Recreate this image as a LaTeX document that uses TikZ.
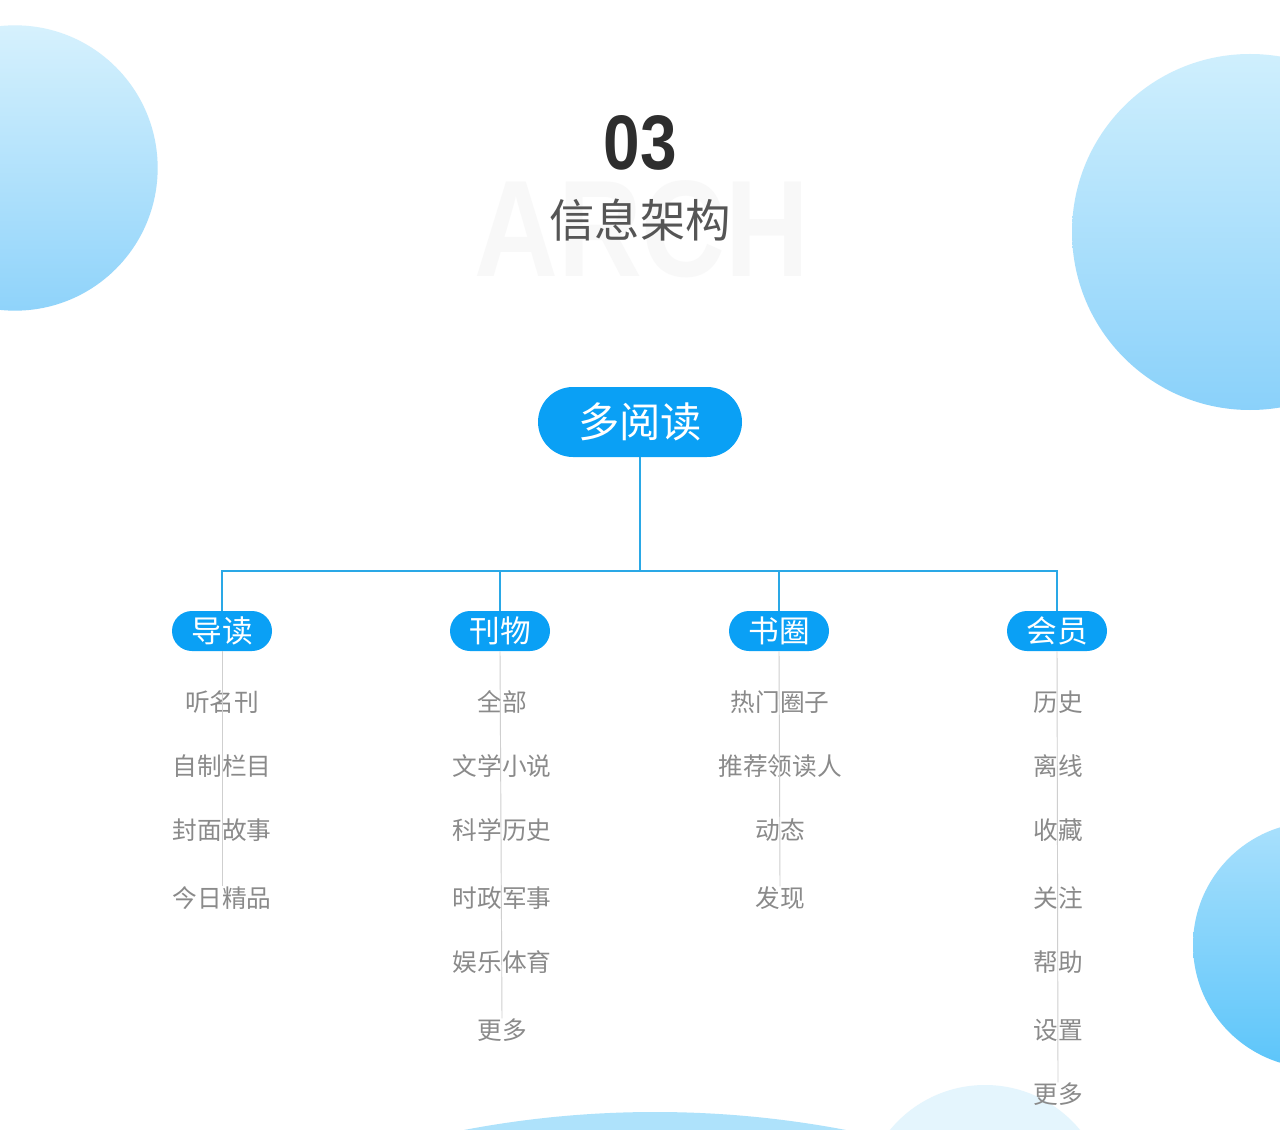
\documentclass[tikz,border=0pt]{standalone}
\usepackage{fontspec}
\usepackage{xcolor}
\setmainfont{Liberation Sans}
\newfontfamily\cjk{Noto Sans CJK SC}
\newfontfamily\numfont[FakeStretch=0.85]{Liberation Sans}
\newfontfamily\markfont[FakeStretch=0.845]{Liberation Sans}
\usetikzlibrary{positioning,shapes,calc}

\definecolor{mainblue}{HTML}{0AA0F5}
\definecolor{linkblue}{HTML}{2AA8E6}
\definecolor{itemgray}{HTML}{8A8A8A}
\definecolor{stemgray}{HTML}{CFCFCF}
\definecolor{titlegray}{HTML}{555555}
\definecolor{numdark}{HTML}{2E2E2E}
\definecolor{markgray}{HTML}{F8F8F8}
\definecolor{tlTop}{HTML}{D6F1FD}
\definecolor{tlBot}{HTML}{8FD3FA}
\definecolor{trTop}{HTML}{CFEFFD}
\definecolor{trBot}{HTML}{8AD1FA}
\definecolor{brTop}{HTML}{A9E0FC}
\definecolor{brBot}{HTML}{5CC5FA}
\definecolor{arcblue}{HTML}{AEE2FB}
\definecolor{paleblue}{HTML}{E4F5FD}

\tikzset{
  rootnode/.style={shape=rounded rectangle, fill=mainblue, text=white, inner sep=0pt,
    minimum width=153pt, minimum height=52.5pt, font=\cjk\fontsize{31}{31}\selectfont},
  catnode/.style={shape=rounded rectangle, fill=mainblue, text=white, inner sep=0pt,
    minimum width=75pt, minimum height=30pt, font=\cjk\fontsize{23}{23}\selectfont},
  itemnode/.style={text=itemgray, inner sep=0pt, font=\cjk\fontsize{18.5}{19}\selectfont},
  link/.style={draw=linkblue, line width=0.8pt},
  stem/.style={draw=stemgray, line width=0.7pt}
}

\begin{document}
\begin{tikzpicture}[x=0.75pt, y=-0.75pt]
    \useasboundingbox (0,0) rectangle (1280,1130);
    \fill[white] (0,0) rectangle (1280,1130);

    % background circles
    \begin{scope}
        \clip (0,0) rectangle (1280,1130);
        \shade[top color=tlTop, bottom color=tlBot] (15,168) circle[radius=107pt];
        \shade[top color=trTop, bottom color=trBot] (1250,232) circle[radius=133.5pt];
        \shade[top color=brTop, bottom color=brBot] (1316,945) circle[radius=92.25pt];
        \fill[arcblue] (655,2124) circle[radius=759pt];
        \fill[paleblue] (985,1208) circle[radius=92.25pt];
    \end{scope}

    % title
    \node[text=markgray, inner sep=0pt, font=\markfont\bfseries\fontsize{103}{103}\selectfont] (mark) at (642,229) {ARCH};
    \node[text=numdark, inner sep=0pt, font=\numfont\bfseries\fontsize{58}{58}\selectfont] (num) at (640,143) {03};
    \node[text=titlegray, inner sep=0pt, font=\cjk\fontsize{34}{34}\selectfont] (title) at (640,220) {信息架构};

    % tree
    \node[rootnode] (root) at (640,422) {多阅读};
    \coordinate (hub) at (640,571);

    \node[catnode] (dd) at (222,631) {导读};
    \node[catnode] (kw) at (500,631) {刊物};
    \node[catnode] (sq) at (779,631) {书圈};
    \node[catnode] (hy) at (1057,631) {会员};

    \draw[link] (root.south) -- (hub);
    \foreach \c in {dd,kw,sq,hy}
        \draw[link] (hub) -| (\c.north);

    % items
    \foreach \t/\y [count=\i] in {听名刊/702, 自制栏目/766, 封面故事/830, 今日精品/898}
        \node[itemnode] (dd-\i) at (222,\y) {\t};
    \foreach \t/\y [count=\i] in {全部/702, 文学小说/766, 科学历史/830, 时政军事/898, 娱乐体育/962, 更多/1030}
        \node[itemnode] (kw-\i) at (502,\y) {\t};
    \foreach \t/\y [count=\i] in {热门圈子/702, 推荐领读人/766, 动态/830, 发现/898}
        \node[itemnode] (sq-\i) at (780,\y) {\t};
    \foreach \t/\y [count=\i] in {历史/702, 离线/766, 收藏/830, 关注/898, 帮助/962, 设置/1030, 更多/1094}
        \node[itemnode] (hy-\i) at (1058,\y) {\t};

    \draw[stem] (dd.south) -- (dd-4.north);
    \draw[stem] (kw.south) -- (kw-6.north);
    \draw[stem] (sq.south) -- (sq-4.north);
    \draw[stem] (hy.south) -- (hy-7.north);
\end{tikzpicture}
\end{document}
